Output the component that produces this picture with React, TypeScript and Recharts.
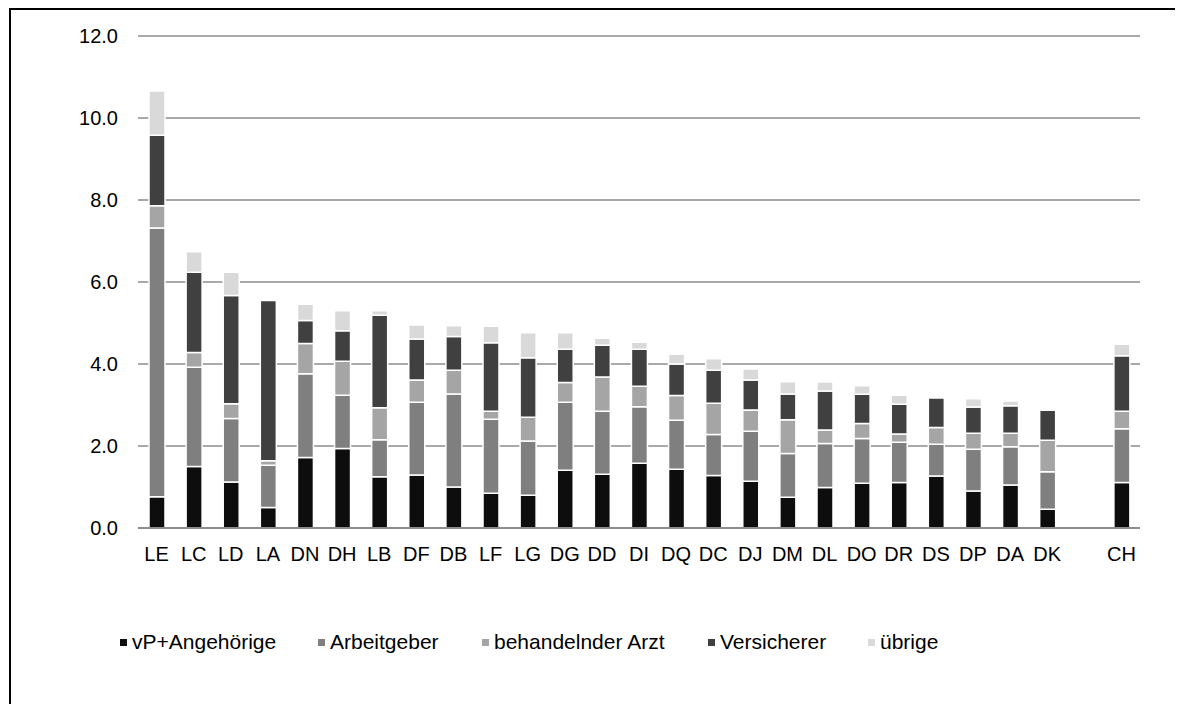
import React from 'react';
import { BarChart, Bar, XAxis, YAxis, CartesianGrid, Legend } from 'recharts';

const categories = ['LE','LC','LD','LA','DN','DH','LB','DF','DB','LF','LG','DG','DD','DI','DQ','DC','DJ','DM','DL','DO','DR','DS','DP','DA','DK','','CH'];
const vpAngehoerige = [0.76,1.50,1.12,0.50,1.72,1.94,1.25,1.29,1.00,0.85,0.80,1.41,1.31,1.58,1.43,1.28,1.14,0.75,0.99,1.09,1.11,1.27,0.90,1.05,0.46,null,1.11];
const arbeitgeber = [6.56,2.42,1.55,1.03,2.04,1.30,0.90,1.78,2.27,1.80,1.32,1.66,1.54,1.38,1.20,1.00,1.22,1.07,1.07,1.09,0.98,0.77,1.02,0.93,0.91,null,1.31];
const arzt = [0.54,0.36,0.36,0.11,0.74,0.83,0.78,0.54,0.58,0.20,0.58,0.48,0.83,0.50,0.60,0.76,0.52,0.82,0.33,0.37,0.20,0.41,0.39,0.33,0.77,null,0.43];
const versicherer = [1.72,1.96,2.64,3.91,0.56,0.74,2.26,1.00,0.82,1.67,1.45,0.81,0.78,0.90,0.77,0.81,0.73,0.63,0.95,0.71,0.73,0.72,0.64,0.67,0.73,null,1.35];
const uebrige = [1.08,0.50,0.57,0,0.40,0.49,0.11,0.34,0.26,0.40,0.61,0.40,0.17,0.17,0.24,0.28,0.27,0.30,0.22,0.21,0.22,0,0.20,0.12,0,null,0.28];
const yTicks = [0, 2, 4, 6, 8, 10, 12];

const seriesNames = ['vP+Angehörige', 'Arbeitgeber', 'behandelnder Arzt', 'Versicherer', 'übrige'];
const seriesKeys = ['vp', 'ag', 'arzt', 'vers', 'ueb'];
const seriesColors = ['#0d0d0d', '#7f7f7f', '#a5a5a5', '#404040', '#d9d9d9'];

const data = categories.map((c, i) => ({
  name: c,
  vp: vpAngehoerige[i],
  ag: arbeitgeber[i],
  arzt: arzt[i],
  vers: versicherer[i],
  ueb: uebrige[i],
}));

const FONT = '"Liberation Sans", Arial, sans-serif';
const legendLefts = [110, 308, 472, 698, 858];

const renderLegend = (props: any) => {
  const payload = props.payload || [];
  const items = seriesNames.map((n, i) => {
    const p = payload.find((q: any) => q.value === n);
    return { value: n, color: p ? p.color : seriesColors[i] };
  });
  return (
    <div style={{ position: 'relative', width: 1000, height: 30, fontFamily: FONT, fontSize: 21, color: '#000' }}>
      {items.map((p, i) => (
        <div key={i} style={{ position: 'absolute', left: legendLefts[i], top: 0, display: 'flex', alignItems: 'center', whiteSpace: 'nowrap', lineHeight: '24px' }}>
          <span style={{ display: 'inline-block', width: 7, height: 7, background: p.color, marginRight: 5 }} />
          <span>{p.value}</span>
        </div>
      ))}
    </div>
  );
};

export default function App() {
  return (
    <div style={{ position: 'relative', width: 1167, height: 696, background: '#fff' }}>
      <style>{'html{overflow:hidden}'}</style>
      <div style={{ position: 'absolute', left: 1, top: 0, width: 1174, height: 2, background: '#000' }} />
      <div style={{ position: 'absolute', left: 1, top: 0, width: 2, height: 700, background: '#000' }} />
      <div style={{ position: 'absolute', left: 2, top: 2 }}>
        <BarChart
          width={1160}
          height={694}
          data={data}
          margin={{ top: 26, right: 30, left: 0, bottom: 136 }}
          barSize={16}
          style={{ fontFamily: FONT }}
        >
          <CartesianGrid horizontal vertical={false} stroke="#8c8c8c" strokeWidth={1.5} />
          <XAxis
            dataKey="name"
            interval={0}
            axisLine={{ stroke: '#8c8c8c', strokeWidth: 2 }}
            tickLine={false}
            tickSize={6}
            tickMargin={13}
            tick={{ fill: '#000', fontSize: 20, fontFamily: FONT }}
            height={40}
          />
          <YAxis
            domain={[0, 12]}
            ticks={yTicks}
            interval={0}
            width={128}
            axisLine={false}
            tickLine={false}
            tickSize={6}
            tickMargin={14}
            tickFormatter={(v: number) => v.toFixed(1)}
            tick={{ fill: '#000', fontSize: 20, fontFamily: FONT }}
          />
          {seriesKeys.map((k, i) => (
            <Bar
              key={k}
              dataKey={k}
              name={seriesNames[i]}
              stackId="a"
              fill={seriesColors[i]}
              stroke="#ffffff"
              strokeWidth={1.5}
              isAnimationActive={false}
            />
          ))}
          <Legend
            layout="horizontal"
            verticalAlign="middle"
            align="center"
            content={renderLegend}
            wrapperStyle={{ left: 0, top: 620, width: 1000, height: 30 }}
          />
        </BarChart>
      </div>
    </div>
  );
}
